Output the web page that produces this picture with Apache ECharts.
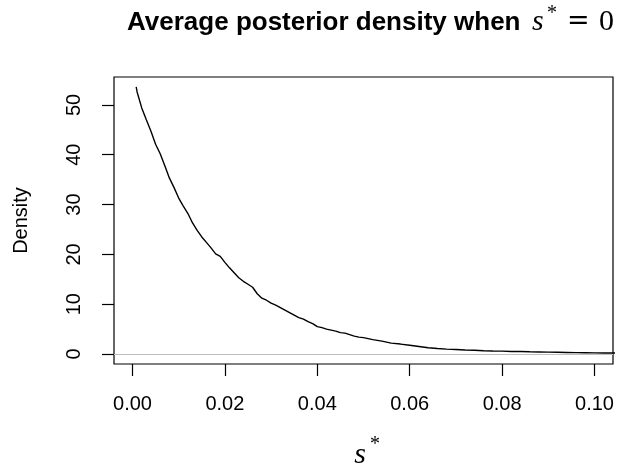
<!DOCTYPE html>
<html>
<head>
<meta charset="utf-8">
<script src="https://cdn.jsdelivr.net/npm/echarts@6/dist/echarts.min.js"></script>
<style>
html,body{margin:0;padding:0;background:#fff;}
#chart{width:625px;height:467px;}
</style>
</head>
<body>
<div id="chart"></div>
<script>
// ---- data ----
const sValues = [
  0.0008, 0.001, 0.002, 0.003, 0.004, 0.005, 0.006, 0.007, 0.008, 0.009,
  0.010, 0.011, 0.012, 0.013, 0.014, 0.015, 0.016, 0.017, 0.018, 0.019,
  0.020, 0.021, 0.022, 0.023, 0.024, 0.025, 0.026, 0.027, 0.028, 0.029,
  0.030, 0.031, 0.032, 0.033, 0.034, 0.035, 0.036, 0.037, 0.038, 0.039,
  0.040, 0.041, 0.042, 0.043, 0.044, 0.045, 0.046, 0.047, 0.048, 0.049,
  0.050, 0.052, 0.054, 0.056, 0.058, 0.060, 0.062, 0.064, 0.066, 0.068,
  0.070, 0.072, 0.074, 0.076, 0.078, 0.080, 0.082, 0.084, 0.086, 0.088,
  0.090, 0.092, 0.094, 0.096, 0.098, 0.100, 0.102, 0.104, 0.106
];
const densityValues = [
  53.6, 52.6, 49.4, 47.0, 44.7, 42.1, 40.2, 37.8, 35.3, 33.4,
  31.3, 29.7, 28.2, 26.3, 24.8, 23.5, 22.4, 21.3, 20.1, 19.6,
  18.4, 17.3, 16.3, 15.3, 14.6, 14.0, 13.4, 12.1, 11.2, 10.8,
  10.2, 9.8, 9.3, 8.8, 8.3, 7.8, 7.3, 7.0, 6.5, 6.1,
  5.5, 5.3, 5.0, 4.8, 4.6, 4.3, 4.2, 3.9, 3.6, 3.4,
  3.3, 2.9, 2.6, 2.2, 2.0, 1.75, 1.5, 1.25, 1.1, 0.98,
  0.9, 0.8, 0.75, 0.66, 0.6, 0.58, 0.52, 0.5, 0.45, 0.42,
  0.38, 0.36, 0.32, 0.28, 0.26, 0.23, 0.22, 0.2, 0.19
];
const xTickValues = [0.00, 0.02, 0.04, 0.06, 0.08, 0.10];
const yTickValues = [0, 10, 20, 30, 40, 50];
const titleText = 'Average posterior density when';
const yAxisTitle = 'Density';

// ---- chart ----
const chart = echarts.init(document.getElementById('chart'), null, {renderer: 'canvas'});
const sans = '"Liberation Sans", Arial, Helvetica, sans-serif';
const serif = '"Liberation Serif", "Times New Roman", serif';
const mathSerif = '"DejaVu Serif", "Liberation Serif", serif';

const option = {
  backgroundColor: '#ffffff',
  animation: false,
  grid: {
    left: 114, right: 12, top: 77, bottom: 103,
    show: true, borderColor: '#000000', borderWidth: 1.2, backgroundColor: 'transparent'
  },
  xAxis: {
    type: 'value',
    min: -0.004, max: 0.104,
    axisLine: {show: false, onZero: false},
    splitLine: {show: false},
    axisTick: {show: true, inside: false, customValues: xTickValues, length: 12, lineStyle: {color: '#000', width: 1.2}},
    axisLabel: {
      customValues: xTickValues, margin: 30,
      formatter: v => Number(v).toFixed(2),
      color: '#000', fontSize: 20, fontFamily: sans
    }
  },
  yAxis: {
    type: 'value',
    min: -2, max: 55.6,
    axisLine: {show: false, onZero: false},
    splitLine: {show: false},
    axisTick: {show: true, inside: false, customValues: yTickValues, length: 12, lineStyle: {color: '#000', width: 1.2}},
    axisLabel: {
      customValues: yTickValues, margin: 30, rotate: 90,
      color: '#000', fontSize: 20, fontFamily: sans
    }
  },
  series: [{
    type: 'line',
    data: sValues.map((s, i) => [s, densityValues[i]]),
    showSymbol: false,
    clip: true,
    lineStyle: {color: '#000000', width: 1.4},
    markLine: {
      silent: true, symbol: 'none',
      label: {show: false},
      lineStyle: {color: '#bebebe', type: 'solid', width: 1},
      data: [{yAxis: 0}]
    }
  }],
  graphic: [
    {type: 'text', x: 127, y: 22.7, style: {text: titleText, font: 'bold 26px ' + sans, fill: '#000', align: 'left', verticalAlign: 'middle'}},
    {type: 'text', x: 532, y: 22.4, style: {text: 's', font: 'italic 30px ' + serif, fill: '#000', align: 'left', verticalAlign: 'middle'}},
    {type: 'text', x: 547, y: 13.8, style: {text: '*', font: '20px ' + serif, fill: '#000', align: 'left', verticalAlign: 'middle'}},
    {type: 'text', x: 567, y: 22.4, style: {text: '=', font: '27px ' + mathSerif, fill: '#000', align: 'left', verticalAlign: 'middle'}},
    {type: 'text', x: 599, y: 22.4, style: {text: '0', font: '30px ' + serif, fill: '#000', align: 'left', verticalAlign: 'middle'}},
    {type: 'text', x: 21, y: 220.5, rotation: Math.PI / 2, style: {text: yAxisTitle, font: '20px ' + sans, fill: '#000', align: 'center', verticalAlign: 'middle'}},
    {type: 'text', x: 360, y: 455, style: {text: 's', font: 'italic 30px ' + serif, fill: '#000', align: 'center', verticalAlign: 'middle'}},
    {type: 'text', x: 375, y: 445, style: {text: '*', font: '20px ' + serif, fill: '#000', align: 'center', verticalAlign: 'middle'}}
  ]
};
chart.setOption(option);
</script>
</body>
</html>
